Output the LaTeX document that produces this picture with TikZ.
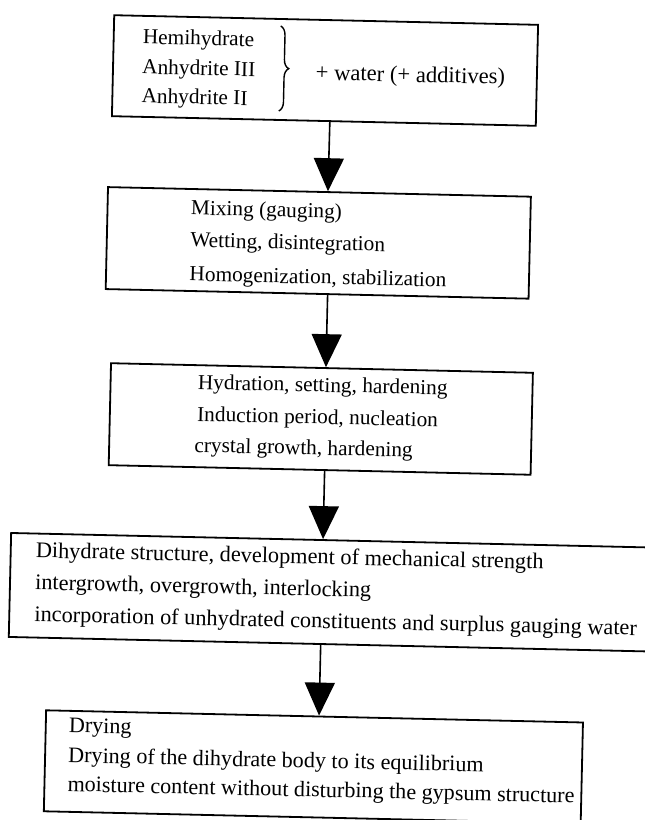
\documentclass[tikz,border=0pt]{standalone}
\usepackage{fontspec}
\setmainfont{Liberation Serif}
\usetikzlibrary{arrows.meta,decorations.pathreplacing}
\begin{document}
\begin{tikzpicture}[x=1pt,y=-1pt,
  box/.style={draw, line width=1.8pt, inner sep=0pt},
  txt/.style={anchor=base west, inner sep=0pt, font=\fontsize{21.3}{25}\selectfont},
  bigtxt/.style={txt, font=\fontsize{22.3}{26}\selectfont},
  midtxt/.style={txt, font=\fontsize{22.1}{26}\selectfont},
  flow/.style={line width=1.6pt, -{Triangle[width=30pt,length=33pt]}}]
\useasboundingbox (0,0) rectangle (645,820);
\fill[white] (0,0) rectangle (645,820);
\begin{scope}[rotate around={-1.3:(322,410)}, transform shape]
  % boxes
  \node[box, minimum width=424, minimum height=101] (b1) at (317.3,70.5) {};
  \node[box, minimum width=423, minimum height=102] (b2) at (314.5,243) {};
  \node[box, minimum width=422, minimum height=102] (b3) at (321,419) {};
  \node[box, minimum width=646, minimum height=104] (b4) at (337,592) {};
  \node[box, minimum width=537, minimum height=101] (b5) at (321.5,767) {};
  % box 1 text
  \node[txt] (t11) at (134.4,48) {Hemihydrate};
  \node[txt] (t12) at (134.4,78) {Anhydrite III};
  \node[txt] (t13) at (134.4,107) {Anhydrite II};
  \draw[line width=1.4pt, decorate, decoration={brace, amplitude=9pt}] (272,27) -- (272,112);
  \node[txt, font=\fontsize{22.6}{26}\selectfont] (t14) at (308,80) {+ water (+ additives)};
  % box 2 text
  \node[txt] (t21) at (186.4,218) {Mixing (gauging)};
  \node[txt] (t22) at (186.4,250) {Wetting, disintegration};
  \node[txt] (t23) at (186.4,284) {Homogenization, stabilization};
  % box 3 text
  \node[txt] (t31) at (197.2,392) {Hydration, setting, hardening};
  \node[txt] (t32) at (197.2,424) {Induction period, nucleation};
  \node[txt] (t33) at (195.2,455) {crystal growth, hardening};
  % box 4 text
  \node[bigtxt] (t41) at (39,564) {Dihydrate structure, development of mechanical strength};
  \node[bigtxt] (t42) at (39,596) {intergrowth, overgrowth, interlocking};
  \node[bigtxt] (t43) at (39,628) {incorporation of unhydrated constituents and surplus gauging water};
  % box 5 text
  \node[midtxt] (t51) at (76,738) {Drying};
  \node[midtxt] (t52) at (76,768) {Drying of the dihydrate body to its equilibrium};
  \node[midtxt] (t53) at (76,797) {moisture content without disturbing the gypsum structure};
  % arrows
  \draw[flow] ([xshift=6pt]b1.south) -- ([xshift=8.5pt]b2.north);
  \draw[flow] ([xshift=10.5pt]b2.south) -- ([xshift=4pt]b3.north);
  \draw[flow] ([xshift=5pt]b3.south) -- ([xshift=-11pt]b4.north);
  \draw[flow] ([xshift=-11pt]b4.south) -- ([xshift=4.5pt]b5.north);
\end{scope}
\end{tikzpicture}
\end{document}
